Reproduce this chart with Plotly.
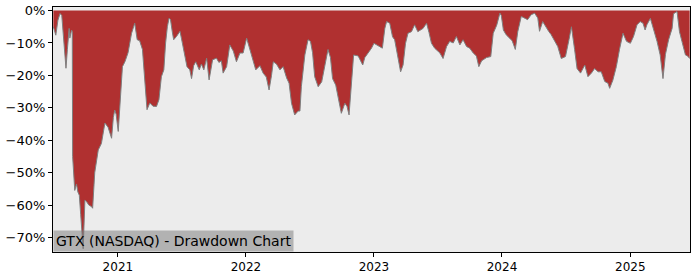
import plotly.graph_objects as go

dates = [
"2020-07-01","2020-07-08","2020-07-14","2020-07-20","2020-07-25","2020-07-30","2020-08-06","2020-08-10",
"2020-08-15","2020-08-17","2020-08-22","2020-08-24","2020-08-25","2020-08-31","2020-09-05","2020-09-09",
"2020-09-13","2020-09-17","2020-09-24","2020-09-29","2020-10-04","2020-10-10","2020-10-18","2020-10-21",
"2020-10-27","2020-11-06","2020-11-15","2020-11-25","2020-12-04","2020-12-14","2020-12-19","2020-12-23",
"2020-12-27","2021-01-02","2021-01-08","2021-01-14","2021-01-21","2021-01-30","2021-02-09","2021-02-18",
"2021-02-25","2021-03-04","2021-03-12","2021-03-16","2021-03-21","2021-03-25","2021-04-02","2021-04-11",
"2021-04-21","2021-04-28","2021-05-05","2021-05-12","2021-05-17","2021-05-22","2021-05-27","2021-05-31",
"2021-06-05","2021-06-09","2021-06-17","2021-06-27","2021-07-01","2021-07-08","2021-07-17","2021-07-25",
"2021-07-30","2021-08-05","2021-08-11","2021-08-21","2021-08-27","2021-09-03","2021-09-11","2021-09-18",
"2021-09-28","2021-10-09","2021-10-16","2021-10-23","2021-10-28","2021-11-07","2021-11-16","2021-11-26",
"2021-12-05","2021-12-15","2021-12-24",
"2022-01-03","2022-01-12","2022-01-21","2022-01-29","2022-02-10","2022-02-19","2022-02-28","2022-03-08",
"2022-03-15","2022-03-20","2022-03-29","2022-04-08","2022-04-17","2022-04-27","2022-05-04","2022-05-11",
"2022-05-20","2022-05-30","2022-06-04","2022-06-08","2022-06-18","2022-06-27","2022-07-04","2022-07-10",
"2022-07-16","2022-07-26","2022-08-05","2022-08-14","2022-08-23","2022-08-30","2022-09-05","2022-09-14",
"2022-09-21","2022-09-30","2022-10-10","2022-10-16","2022-10-22","2022-10-29","2022-11-04","2022-11-17",
"2022-11-22","2022-11-30","2022-12-06","2022-12-16","2022-12-25",
"2023-01-01","2023-01-09","2023-01-18","2023-01-25","2023-02-01","2023-02-06","2023-02-15","2023-02-23",
"2023-03-01","2023-03-10","2023-03-18","2023-03-25","2023-04-01","2023-04-08","2023-04-18","2023-04-27",
"2023-05-06","2023-05-21","2023-05-31","2023-06-07","2023-06-14","2023-06-23","2023-07-08","2023-07-17",
"2023-07-27","2023-08-05","2023-08-15","2023-08-24","2023-09-03","2023-09-12","2023-09-22","2023-10-01",
"2023-10-11","2023-10-20","2023-10-27","2023-11-04","2023-11-18","2023-11-30","2023-12-07","2023-12-17",
"2023-12-26","2023-12-30",
"2024-01-05","2024-01-13","2024-01-22","2024-01-30","2024-02-08","2024-02-15","2024-02-25","2024-03-05",
"2024-03-14","2024-03-24","2024-04-03","2024-04-12","2024-04-17","2024-04-26","2024-05-04","2024-05-13",
"2024-05-20","2024-05-30","2024-06-08","2024-06-18","2024-06-30","2024-07-10","2024-07-17","2024-07-26",
"2024-08-02","2024-08-12","2024-08-24","2024-09-02","2024-09-12","2024-09-21","2024-10-01","2024-10-10",
"2024-10-20","2024-10-29","2024-11-03","2024-11-12","2024-11-22","2024-12-01","2024-12-11","2024-12-21",
"2025-01-01","2025-01-10","2025-01-20","2025-01-29","2025-02-06","2025-02-12","2025-02-17","2025-02-27",
"2025-03-08","2025-03-18","2025-03-27","2025-04-04","2025-04-11","2025-04-20","2025-04-30","2025-05-04",
"2025-05-14","2025-05-21","2025-05-28","2025-06-07","2025-06-13","2025-06-19",
]

drawdown = [
-5,-7.6,-3,-0.9,-1.5,-8,-17.8,-12,
-5.5,-8.5,-6,-6.5,-45,-55.5,-53.5,-56,
-57,-63,-73.5,-58.5,-59,-60,-60.5,-61,
-50,-43,-41,-34.7,-36,-39.4,-33,-30.7,
-32,-37.3,-28,-17.3,-15.8,-13,-7,-3.9,
-9,-9.3,-12,-17.3,-24.5,-30.6,-28.5,-29.5,
-29.6,-27.5,-20.4,-18.3,-10,-5,-2.3,-2.8,
-6.5,-9,-8,-6.4,-8.5,-12,-17.3,-18.3,
-21,-17,-15.8,-18.3,-16.5,-18.3,-14.7,-21.4,
-15.2,-14.7,-16,-15.5,-19.3,-17.3,-10.6,-12.5,
-15.8,-13.1,-13.1,
-8.5,-12,-15.8,-18.3,-17,-19.3,-20.5,-24.5,
-20,-15.8,-16.5,-18.3,-17.3,-20.8,-22.4,-28.6,
-32.2,-31,-31,-23.5,-13.7,-9,-9.5,-13,
-20.4,-23.5,-22,-17.3,-12,-14.5,-21,-23,
-26.5,-31.7,-28.6,-29.5,-32.2,-21,-13.7,-14,
-15,-16.8,-14.5,-13.1,-11.6,
-10.1,-10.6,-11,-11.6,-5.5,-3.4,-3.9,-8.1,
-9,-14.8,-18.9,-16.8,-10.1,-7,-6.5,-4.4,
-6.5,-5.5,-3.9,-6.8,-10.1,-11.6,-13.1,-14.8,
-11.1,-9.5,-10,-8,-10.6,-9,-11.1,-11.6,
-13.1,-14,-17.3,-15.5,-14.5,-14.2,-7,-4.5,
-0.8,-1.5,
-6,-7.5,-8.5,-9.3,-12,-6.5,-1.8,-2.3,
-2.8,-1.3,-0.8,-2.3,-6.4,-3.4,-4.9,-6.4,
-7.4,-9.5,-11.1,-14.8,-14.2,-9,-5,-12,
-17.9,-19.3,-16.8,-20.4,-19.3,-17.9,-18.9,-18.9,
-21.9,-22.4,-24,-21.5,-17.3,-12,-7,-9.5,
-10.1,-8,-4.4,-3.4,-3.9,-6,-4.4,-2.4,
-5.5,-9.5,-13.7,-21,-13.5,-9,-5.5,-1,
-0.3,-6.5,-9.5,-13.7,-14,-14.8,
]

y_tick_vals = [0, -10, -20, -30, -40, -50, -60, -70]
y_tick_text = ["0%", "\u221210%", "\u221220%", "\u221230%", "\u221240%", "\u221250%", "\u221260%", "\u221270%"]
x_tick_vals = ["2021-01-01", "2022-01-01", "2023-01-01", "2024-01-01", "2025-01-01"]
x_tick_text = ["2021", "2022", "2023", "2024", "2025"]
title_text = "GTX (NASDAQ) - Drawdown Chart"

fig = go.Figure()
fig.add_trace(go.Scatter(
    x=dates, y=drawdown, mode="lines", fill="tozeroy",
    fillcolor="#b03030", line=dict(color="#7f7f7f", width=1),
    hoverinfo="skip", showlegend=False,
))

font = "DejaVu Sans"
fig.update_layout(
    width=700, height=280,
    margin=dict(l=53, r=10, t=7, b=28, autoexpand=False),
    paper_bgcolor="white", plot_bgcolor="#ececec",
    font=dict(family=font, size=12, color="black"),
    showlegend=False,
)
fig.update_xaxes(
    range=["2020-06-30", "2025-06-20"],
    tickvals=x_tick_vals, ticktext=x_tick_text,
    ticks="outside", ticklen=4, tickcolor="black",
    showline=True, linecolor="black", linewidth=1, mirror=True,
    showgrid=False, zeroline=False, automargin=False,
    tickfont=dict(family=font, size=12),
)
fig.update_yaxes(
    range=[-74.5, 1.1],
    tickvals=y_tick_vals, ticktext=y_tick_text,
    ticks="outside", ticklen=4, tickcolor="black",
    showline=True, linecolor="black", linewidth=1, mirror=True,
    showgrid=False, zeroline=False, automargin=False,
    tickfont=dict(family=font, size=13),
)
fig.add_annotation(
    text=title_text, xref="paper", yref="paper", x=0, y=0,
    xanchor="left", yanchor="bottom", showarrow=False,
    bgcolor="rgba(120,120,120,0.5)", borderpad=2,
    font=dict(family=font, size=14, color="black"),
)

fig.write_html("out.html")
